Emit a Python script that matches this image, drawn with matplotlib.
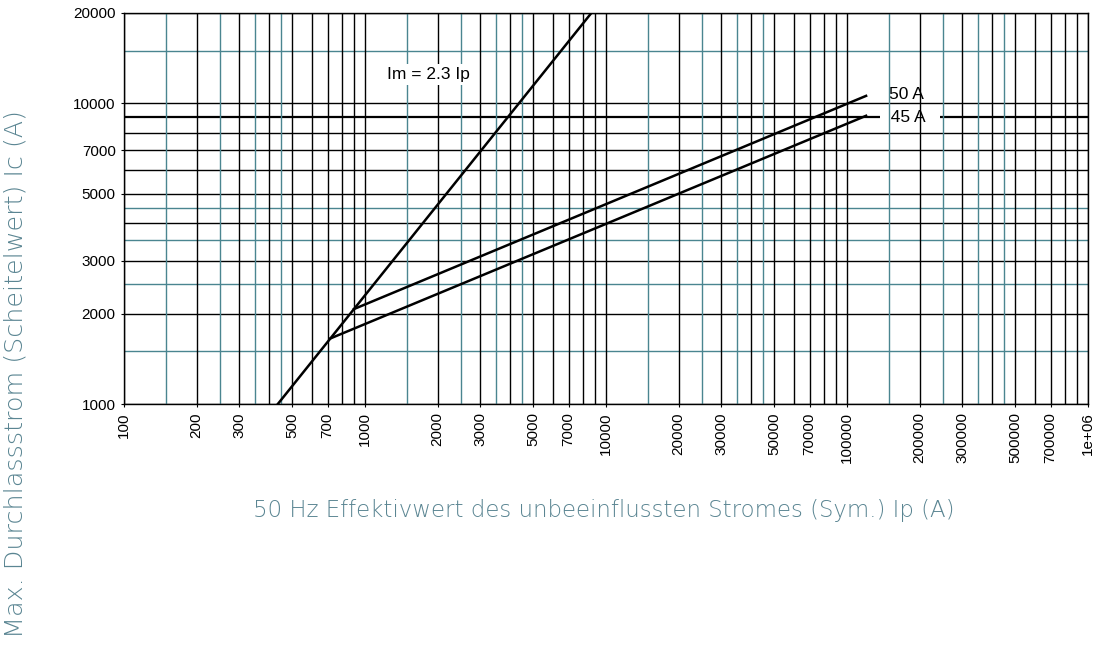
import matplotlib
matplotlib.use("Agg")
import matplotlib.pyplot as plt

# ======== chart data ========
# Im = 2.3 Ip reference line
im_x = [400, 9000]
im_y = [920, 20700]
# let-through curves, start at the Im line and end near 120 kA
curve_50_x = [900, 120000]
curve_50_y = [2070, 10600]
curve_45_x = [715, 120000]
curve_45_y = [1650, 9100]

x_ticks = [100, 200, 300, 500, 700, 1000, 2000, 3000, 5000, 7000, 10000,
           20000, 30000, 50000, 70000, 100000, 200000, 300000, 500000, 700000, 1000000]
x_tick_labels = ["100", "200", "300", "500", "700", "1000", "2000", "3000", "5000", "7000",
                 "10000", "20000", "30000", "50000", "70000", "100000", "200000", "300000",
                 "500000", "700000", "1e+06"]
y_ticks = [1000, 2000, 3000, 5000, 7000, 10000, 20000]
y_tick_labels = ["1000", "2000", "3000", "5000", "7000", "10000", "20000"]

# grid lines: black at 1..9 per decade, teal at the half steps
decades_x = [100, 1000, 10000, 100000]
vgrid_black = [m * d for d in decades_x for m in range(1, 10)] + [1000000]
vgrid_teal = [m * d for d in decades_x for m in (1.5, 2.5, 3.5, 4.5)]
hgrid_black = [1000, 2000, 3000, 4000, 5000, 6000, 7000, 8000, 9000, 10000, 20000]
hgrid_teal = [1500, 2500, 3500, 4500, 15000]

TEAL = "#4a8590"
LABEL_COLOR = "#5a8592"
TICK_FONT = "Liberation Sans"

fig = plt.figure(figsize=(10.96, 6.5), dpi=100)
ax = fig.add_axes([124 / 1096, 1 - 404 / 650, (1088 - 124) / 1096, (404 - 13) / 650])
ax.set_xscale("log")
ax.set_yscale("log")
ax.set_xlim(100, 1000000)
ax.set_ylim(1000, 20000)

# horizontal grid (below the 45 A label box)
for y in hgrid_teal:
    ax.axhline(y, color=TEAL, lw=1.0, zorder=1)
for y in hgrid_black:
    ax.axhline(y, color="black", lw=1.6 if y == 9000 else 1.0, zorder=1)

# vertical grid (drawn over the 45 A box)
for x in vgrid_teal:
    ax.axvline(x, color=TEAL, lw=1.0, zorder=3)
for x in vgrid_black:
    ax.axvline(x, color="black", lw=1.0, zorder=3)

ax.plot(im_x, im_y, color="black", lw=1.8, zorder=4)
ax.plot(curve_50_x, curve_50_y, color="black", lw=1.8, zorder=4)
ax.plot(curve_45_x, curve_45_y, color="black", lw=1.8, zorder=4)

ax.text(1230, 12500, "Im = 2.3 Ip", fontsize=12.5, family=TICK_FONT, va="center", ha="left",
        zorder=5, bbox=dict(facecolor="white", edgecolor="none", pad=2))
ax.text(150000, 10750, "50 A", fontsize=12.5, family=TICK_FONT, va="center", ha="left", zorder=2)
ax.text(138000, 9000, "  45 A   ", fontsize=12.5, family=TICK_FONT, va="center", ha="left",
        zorder=2, bbox=dict(facecolor="white", edgecolor="none", pad=0.5))

ax.set_xticks(x_ticks)
ax.set_xticklabels(x_tick_labels, rotation=90, family=TICK_FONT, fontsize=11)
ax.set_yticks(y_ticks)
ax.set_yticklabels(y_tick_labels, family=TICK_FONT, fontsize=11)
ax.minorticks_off()
ax.tick_params(length=2, width=0.8, pad=4)
for s in ax.spines.values():
    s.set_linewidth(1.0)
    s.set_zorder(6)

fig.text(604 / 1096, 1 - 510 / 650, "50 Hz Effektivwert des unbeeinflussten Stromes (Sym.) Ip (A)",
         ha="center", va="center", fontsize=16.5, color=LABEL_COLOR, family="DejaVu Sans", weight="light")
fig.text(16 / 1096, 1 - 374 / 650, "Max. Durchlassstrom (Scheitelwert) Ic (A)",
         ha="center", va="center", rotation=90, fontsize=18.3, color=LABEL_COLOR,
         family="DejaVu Sans", weight="light")

fig.savefig("out.png", dpi=100)
